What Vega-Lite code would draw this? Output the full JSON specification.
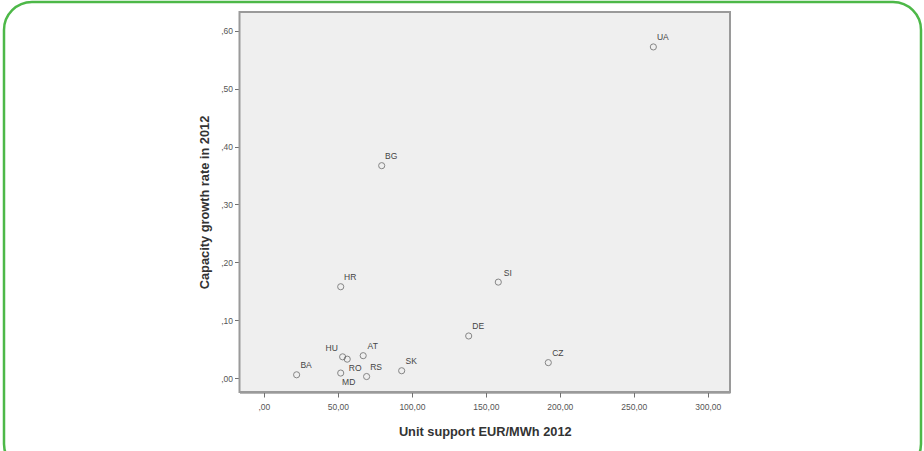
{
  "$schema": "https://vega.github.io/schema/vega-lite/v6.json",
  "autosize": "none",
  "width": 917,
  "height": 470,
  "padding": {"left": 4, "top": 2, "right": 3, "bottom": 0},
  "background": "white",
  "config": {
    "view": {"stroke": "#4db848", "strokeWidth": 2.5, "cornerRadius": 28, "fill": "white"},
    "axis": {
      "grid": false,
      "domainColor": "#707070",
      "domainWidth": 2,
      "tickColor": "#707070",
      "tickSize": 5,
      "labelFont": "Liberation Sans",
      "labelFontSize": 8.5,
      "labelColor": "#555555",
      "titleFont": "Liberation Sans",
      "titleFontSize": 12.8,
      "titleFontWeight": "bold",
      "titleColor": "#333333"
    }
  },
  "data": {
    "values": [
      {"country": "UA", "support": 263.2, "growth": 0.572},
      {"country": "BG", "support": 79.6, "growth": 0.367},
      {"country": "HR", "support": 51.9, "growth": 0.158},
      {"country": "SI", "support": 158.4, "growth": 0.166},
      {"country": "DE", "support": 138.4, "growth": 0.073},
      {"country": "CZ", "support": 192.2, "growth": 0.027},
      {"country": "SK", "support": 93.1, "growth": 0.013},
      {"country": "BA", "support": 22.1, "growth": 0.006},
      {"country": "HU", "support": 53.2, "growth": 0.037},
      {"country": "RO", "support": 56.3, "growth": 0.033},
      {"country": "MD", "support": 51.9, "growth": 0.009},
      {"country": "AT", "support": 67.1, "growth": 0.039},
      {"country": "RS", "support": 69.4, "growth": 0.003}
    ]
  },
  "layer": [
    {
      "data": {"values": [{}]},
      "mark": {"type": "rect", "fill": "#efefef", "stroke": "#9a9a9a", "strokeWidth": 2},
      "encoding": {
        "x": {
          "datum": -16.5,
          "type": "quantitative",
          "scale": {"domain": [-16.5, 315], "range": [235.5, 726], "nice": false, "zero": false},
          "axis": {
            "title": "Unit support EUR/MWh 2012",
            "orient": "bottom",
            "offset": -80,
            "values": [0, 50, 100, 150, 200, 250, 300],
            "labelExpr": "datum.value == 0 ? ',00' : replace(format(datum.value, '.2f'), '.', ',')",
            "labelPadding": 5,
            "titlePadding": 15
          }
        },
        "x2": {"datum": 315},
        "y": {
          "datum": -0.0237,
          "type": "quantitative",
          "scale": {"domain": [-0.0237, 0.6323], "range": [390, 10], "nice": false, "zero": false},
          "axis": {
            "title": "Capacity growth rate in 2012",
            "orient": "left",
            "offset": -235.5,
            "values": [0, 0.1, 0.2, 0.3, 0.4, 0.5, 0.6],
            "labelExpr": "replace(format(datum.value, '.2f'), '0.', ',')",
            "labelPadding": 2,
            "titlePadding": 9
          }
        },
        "y2": {"datum": 0.6323}
      }
    },
    {
      "mark": {"type": "point", "shape": "circle", "filled": false, "stroke": "#5a5a5a", "strokeWidth": 1, "size": 38},
      "encoding": {
        "x": {"field": "support", "type": "quantitative", "title": "Unit support EUR/MWh 2012"},
        "y": {"field": "growth", "type": "quantitative", "title": "Capacity growth rate in 2012"}
      }
    },
    {
      "transform": [{"filter": "indexof(['HU', 'RO', 'MD'], datum.country) < 0"}],
      "mark": {"type": "text", "font": "Liberation Sans", "fontSize": 8.5, "fill": "#444444", "align": "center", "baseline": "middle", "dx": 9.5, "dy": -9.5},
      "encoding": {
        "x": {"field": "support", "type": "quantitative", "title": "Unit support EUR/MWh 2012"},
        "y": {"field": "growth", "type": "quantitative", "title": "Capacity growth rate in 2012"},
        "text": {"field": "country"}
      }
    },
    {
      "transform": [{"filter": "datum.country == 'RO' || datum.country == 'MD'"}],
      "mark": {"type": "text", "font": "Liberation Sans", "fontSize": 8.5, "fill": "#444444", "align": "center", "baseline": "middle", "dx": 8, "dy": 9},
      "encoding": {
        "x": {"field": "support", "type": "quantitative", "title": "Unit support EUR/MWh 2012"},
        "y": {"field": "growth", "type": "quantitative", "title": "Capacity growth rate in 2012"},
        "text": {"field": "country"}
      }
    },
    {
      "transform": [{"filter": "datum.country == 'HU'"}],
      "mark": {"type": "text", "font": "Liberation Sans", "fontSize": 8.5, "fill": "#444444", "align": "center", "baseline": "middle", "dx": -11, "dy": -9},
      "encoding": {
        "x": {"field": "support", "type": "quantitative", "title": "Unit support EUR/MWh 2012"},
        "y": {"field": "growth", "type": "quantitative", "title": "Capacity growth rate in 2012"},
        "text": {"field": "country"}
      }
    }
  ]
}
